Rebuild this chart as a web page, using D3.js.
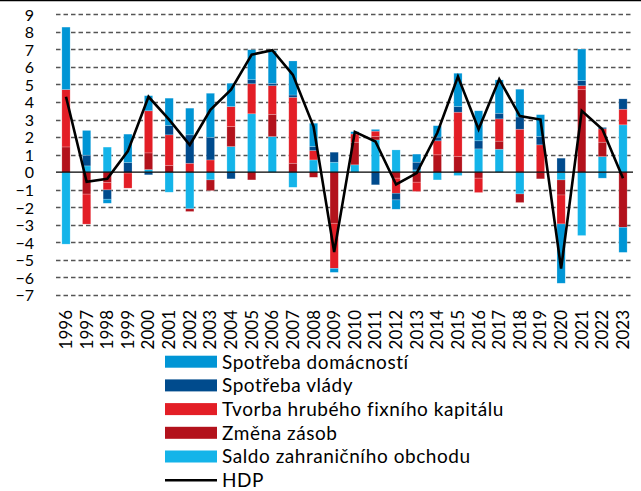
<!DOCTYPE html>
<html>
<head>
<meta charset="utf-8">
<script src="https://cdn.jsdelivr.net/npm/d3@7"></script>
<style>
  body { margin: 0; background: #fff; }
  text { font-family: Lato, "Open Sans", sans-serif; fill: #000; }
</style>
</head>
<body>
<div id="chart"></div>
<script>
// data
var years = d3.range(1996, 2024).map(String);
var domacnosti = [3.56, 1.41, -0.23, 1.62, 0.86, 1.56, 1.52, 2.51, 1.33, 1.71, 1.86, 1.94, 1.33, -0.23, 0.13, 0.1, -0.53, 0.46, 0.65, 1.9, 1.71, 1.9, 1.58, 1.24, -3.38, 1.8, -0.34, -1.43];
var vlada = [0, 0.61, -0.53, 0.55, -0.15, 0.53, 1.62, 1.29, -0.38, 0.23, 0.13, 0.13, 0.23, 0.57, 0, -0.72, -0.38, 0.44, 0.21, 0.32, 0.46, 0.32, 0.7, 0.48, 0.8, 0.29, 0.08, 0.59];
var tvorba = [3.27, -1.71, -0.42, -0.86, 2.4, 1.75, 0.51, 0.7, 1.14, 1.71, 1.63, 3.76, 0.53, -2.57, 0.47, 0.3, -0.86, -0.53, 0.8, 2.53, -0.82, 1.27, 2.45, 1.56, -1.65, 0.23, 0.76, 0.89];
var zasoby = [1.44, -1.25, -0.59, -0.05, 0.95, 0.38, -0.15, -0.61, 1.14, -0.44, 1.27, 0.51, -0.29, -2.91, 1.29, 0.2, -0.34, -0.57, 0.99, 0.89, -0.34, 0.46, -0.49, -0.38, -0.86, 4.7, 0.82, -3.14];
var saldo = [-4.1, 0.36, 1.43, 0, 0.15, -1.14, -2.09, -0.44, 1.46, 3.33, 2.03, -0.86, 0.7, 0.57, 0.42, 1.84, 1.27, 0.13, -0.44, -0.19, 1.33, 1.31, -1.24, 0, -0.44, -3.61, 0.89, 2.7];
var hdp = [4.3, -0.55, -0.38, 1.2, 4.3, 3.0, 1.55, 3.55, 4.7, 6.7, 6.95, 5.55, 2.6, -4.55, 2.3, 1.75, -0.7, -0.05, 2.25, 5.45, 2.45, 5.3, 3.2, 3.0, -5.5, 3.5, 2.45, -0.35];
var yTicks = d3.range(-7, 10);

var series = [
    { key: "domacnosti", name: "Spotřeba domácností", color: "#0095d5", values: domacnosti },
    { key: "vlada", name: "Spotřeba vlády", color: "#004b8d", values: vlada },
    { key: "tvorba", name: "Tvorba hrubého fixního kapitálu", color: "#e31e26", values: tvorba },
    { key: "zasoby", name: "Změna zásob", color: "#b3121c", values: zasoby },
    { key: "saldo", name: "Saldo zahraničního obchodu", color: "#14b4e9", values: saldo }
];
// Excel stacks the last legend entry next to zero
var stackOrder = ["saldo", "zasoby", "tvorba", "vlada", "domacnosti"];

var W = 641, H = 491;
var svg = d3.select("#chart").append("svg")
    .attr("width", W)
    .attr("height", H);

var x = d3.scaleBand()
    .domain(years)
    .range([56, 633])
    .paddingInner(0.6)
    .paddingOuter(0.285);

var y = d3.scaleLinear()
    .domain([-7, 9])
    .range([295, 14.3]);

var color = {};
series.forEach(function(s) { color[s.key] = s.color; });

var rows = years.map(function(yr, i) {
    var r = { year: yr };
    series.forEach(function(s) { r[s.key] = s.values[i]; });
    return r;
});

// top border
svg.append("line")
    .attr("x1", 0).attr("x2", W)
    .attr("y1", 0.5).attr("y2", 0.5)
    .attr("stroke", "#000")
    .attr("stroke-width", 1.5);

// grid
svg.append("g")
    .selectAll("line")
    .data(yTicks.filter(function(d) { return d !== 0; }))
    .enter().append("line")
    .attr("x1", 56).attr("x2", 633)
    .attr("y1", function(d) { return Math.round(y(d)) + 0.5; })
    .attr("y2", function(d) { return Math.round(y(d)) + 0.5; })
    .attr("stroke", "#555")
    .attr("stroke-width", 1.3)
    .attr("stroke-dasharray", "4.5,3");

// y axis labels
var yAxis = svg.append("g")
    .attr("transform", "translate(56,0)")
    .call(d3.axisLeft(y).tickValues(yTicks).tickSize(0).tickPadding(22));
yAxis.select(".domain").remove();
yAxis.selectAll("text")
    .style("font-family", "Lato, 'Open Sans', sans-serif")
    .style("font-size", "16px")
    .attr("dy", "0.36em");

// stacked bars
var stacked = d3.stack()
    .keys(stackOrder)
    .offset(d3.stackOffsetDiverging)(rows);

svg.append("g")
    .selectAll("g")
    .data(stacked)
    .enter().append("g")
    .attr("fill", function(d) { return color[d.key]; })
    .selectAll("rect")
    .data(function(d) { return d; })
    .enter().append("rect")
    .attr("x", function(d) { return x(d.data.year); })
    .attr("width", x.bandwidth())
    .attr("y", function(d) { return y(d[1]); })
    .attr("height", function(d) { return Math.max(0, y(d[0]) - y(d[1])); })
    .attr("stroke", "#fff")
    .attr("stroke-opacity", 0.35)
    .attr("stroke-width", 0.6);

// zero line
svg.append("line")
    .attr("x1", 56).attr("x2", 633)
    .attr("y1", y(0)).attr("y2", y(0))
    .attr("stroke", "#000")
    .attr("stroke-width", 1.3);

// HDP line
var line = d3.line()
    .x(function(d, i) { return x(years[i]) + x.bandwidth() / 2; })
    .y(function(d) { return y(d); });

svg.append("path")
    .datum(hdp)
    .attr("d", line)
    .attr("fill", "none")
    .attr("stroke", "#000")
    .attr("stroke-width", 2.6)
    .attr("stroke-linejoin", "miter");

// x axis labels (rotated, reading upwards)
var xAxis = svg.append("g")
    .attr("transform", "translate(0,310)")
    .call(d3.axisBottom(x).tickSize(0).tickPadding(0));
xAxis.select(".domain").remove();
xAxis.selectAll("text")
    .style("font-family", "Lato, 'Open Sans', sans-serif")
    .style("font-size", "17px")
    .attr("text-anchor", "end")
    .attr("dy", "0.35em")
    .attr("transform", "rotate(-90)")
    .attr("x", 0)
    .attr("y", 0);

// legend
var legendItems = series.map(function(s) { return { name: s.name, color: s.color, type: "rect" }; });
legendItems.push({ name: "HDP", color: "#000", type: "line" });

var legend = svg.append("g")
    .selectAll("g")
    .data(legendItems)
    .enter().append("g")
    .attr("transform", function(d, i) { return "translate(165," + (361.7 + i * 23.7) + ")"; });

legend.filter(function(d) { return d.type === "rect"; })
    .append("rect")
    .attr("x", 0).attr("y", -6)
    .attr("width", 52).attr("height", 12)
    .attr("fill", function(d) { return d.color; });

legend.filter(function(d) { return d.type === "line"; })
    .append("line")
    .attr("x1", 0).attr("x2", 52)
    .attr("y1", 0).attr("y2", 0)
    .attr("stroke", "#000")
    .attr("stroke-width", 2.5);

legend.append("text")
    .attr("x", 57)
    .attr("y", 0)
    .attr("dy", "0.36em")
    .style("font-size", "19px")
    .style("letter-spacing", "0.55px")
    .text(function(d) { return d.name; });
</script>
</body>
</html>
